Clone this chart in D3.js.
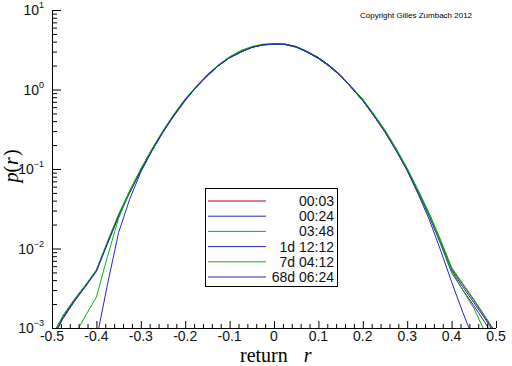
<!DOCTYPE html>
<html>
<head>
<meta charset="utf-8">
<script src="https://d3js.org/d3.v7.min.js"></script>
<style>
  body { margin: 0; background: #fff; }
  svg { display: block; }
</style>
</head>
<body>
<svg id="chart"></svg>
<script>
// return grid, step 0.025 from -0.5 to 0.5
const returns = [-0.5, -0.475, -0.45, -0.425, -0.4, -0.375, -0.35, -0.325, -0.3, -0.275,
    -0.25, -0.225, -0.2, -0.175, -0.15, -0.125, -0.1, -0.075, -0.05, -0.025,
    0, 0.025, 0.05, 0.075, 0.1, 0.125, 0.15, 0.175, 0.2, 0.225,
    0.25, 0.275, 0.3, 0.325, 0.35, 0.375, 0.4, 0.425, 0.45, 0.475, 0.5];

// log10 p(r)
const log00_03 = [-3.12, -2.85, -2.65, -2.47, -2.28, -1.92, -1.58, -1.28, -1.01, -0.76,
    -0.53, -0.32, -0.13, 0.03, 0.18, 0.30, 0.40, 0.47, 0.53, 0.56,
    0.572, 0.57, 0.54, 0.47, 0.40, 0.30, 0.18, 0.03, -0.13, -0.32,
    -0.52, -0.75, -1.00, -1.28, -1.57, -1.90, -2.25, -2.45, -2.65, -2.86, -3.08];
const log00_24 = [-3.15, -2.87, -2.66, -2.48, -2.27, -1.93, -1.59, -1.29, -1.02, -0.77,
    -0.53, -0.33, -0.14, 0.03, 0.17, 0.30, 0.40, 0.48, 0.53, 0.565,
    0.575, 0.57, 0.54, 0.48, 0.40, 0.30, 0.17, 0.02, -0.14, -0.33,
    -0.53, -0.76, -1.01, -1.29, -1.58, -1.92, -2.27, -2.48, -2.68, -2.88, -3.10];
const log03_48 = [-3.10, -2.84, -2.64, -2.46, -2.27, -1.91, -1.57, -1.27, -1.00, -0.75,
    -0.52, -0.31, -0.12, 0.04, 0.18, 0.31, 0.41, 0.48, 0.535, 0.56,
    0.57, 0.565, 0.54, 0.47, 0.39, 0.29, 0.17, 0.03, -0.12, -0.31,
    -0.51, -0.74, -0.99, -1.27, -1.56, -1.89, -2.24, -2.44, -2.64, -2.85, -3.06];
const log1d_12_12 = [-3.14, -2.88, -2.67, -2.48, -2.29, -1.94, -1.60, -1.30, -1.02, -0.77,
    -0.54, -0.32, -0.13, 0.03, 0.18, 0.30, 0.40, 0.47, 0.53, 0.56,
    0.57, 0.565, 0.53, 0.47, 0.40, 0.30, 0.18, 0.02, -0.14, -0.33,
    -0.53, -0.76, -1.02, -1.30, -1.60, -1.94, -2.30, -2.52, -2.72, -2.93, -3.15];
const log7d_04_12 = [-3.6, -3.4, -3.10, -2.85, -2.61, -2.10, -1.62, -1.28, -1.00, -0.75,
    -0.52, -0.31, -0.12, 0.04, 0.19, 0.31, 0.41, 0.49, 0.54, 0.57,
    0.575, 0.57, 0.535, 0.47, 0.39, 0.29, 0.17, 0.02, -0.14, -0.33,
    -0.53, -0.76, -1.00, -1.28, -1.58, -1.92, -2.28, -2.52, -2.75, -3.05, -3.4];
const log68d_06_24 = [-4.5, -4.2, -3.9, -3.6, -3.15, -2.45, -1.80, -1.38, -1.04, -0.77,
    -0.53, -0.32, -0.13, 0.03, 0.18, 0.30, 0.40, 0.47, 0.53, 0.565,
    0.572, 0.57, 0.535, 0.47, 0.39, 0.29, 0.17, 0.02, -0.14, -0.33,
    -0.54, -0.77, -1.02, -1.32, -1.64, -2.02, -2.42, -2.80, -3.15, -3.5, -3.9];

const seriesNames = ["00:03", "00:24", "03:48", "1d 12:12", "7d 04:12", "68d 06:24"];
const seriesColors = ["#b0001a", "#2828b4", "#10b010", "#2828b4", "#10b010", "#2828b4"];
const seriesValues = [log00_03, log00_24, log03_48, log1d_12_12, log7d_04_12, log68d_06_24];

const xTicks = [-0.5, -0.4, -0.3, -0.2, -0.1, 0, 0.1, 0.2, 0.3, 0.4, 0.5];
const xTickLabels = ["-0.5", "-0.4", "-0.3", "-0.2", "-0.1", "0", "0.1", "0.2", "0.3", "0.4", "0.5"];
const yExponents = [1, 0, -1, -2, -3];

const width = 512, height = 366;
const svg = d3.select("#chart")
    .attr("width", width)
    .attr("height", height);

const x = d3.scaleLinear()
    .domain([-0.5, 0.5])
    .range([52, 496]);

const y = d3.scaleLog()
    .domain([1e-3, 1e1])
    .range([328, 10]);

// clip the curves to the plot area
svg.append("defs")
    .append("clipPath")
    .attr("id", "plot-clip")
    .append("rect")
    .attr("x", 52)
    .attr("y", 10)
    .attr("width", 444)
    .attr("height", 318);

const line = d3.line()
    .x(d => x(d[0]))
    .y(d => y(Math.pow(10, d[1])));

const curves = svg.append("g").attr("clip-path", "url(#plot-clip)");
seriesValues.forEach((vals, i) => {
    curves.append("path")
        .datum(returns.map((r, j) => [r, vals[j]]))
        .attr("d", line)
        .attr("fill", "none")
        .attr("stroke", seriesColors[i])
        .attr("stroke-width", 1);
});

// y axis (log), ticks pointing inward
const yMinor = [];
for (let e = -3; e < 1; e++) {
    for (let m = 2; m <= 9; m++) yMinor.push(m * Math.pow(10, e));
}
const yAxis = d3.axisRight(y)
    .tickValues(yExponents.map(e => Math.pow(10, e)))
    .tickSize(9)
    .tickFormat("");
svg.append("g")
    .attr("transform", "translate(52,0)")
    .call(yAxis)
    .call(g => g.select(".domain").attr("d", "M0.5,10V328"))
    .call(g => g.selectAll(".tick line").attr("stroke", "#000"));
svg.append("g")
    .attr("transform", "translate(52,0)")
    .call(d3.axisRight(y).tickValues(yMinor).tickSize(5).tickFormat(""))
    .call(g => g.select(".domain").remove());

const yLabels = svg.append("g")
    .style("font-family", "'Liberation Sans', Arial, sans-serif")
    .style("fill", "#111");
yExponents.forEach(e => {
    const t = yLabels.append("text")
        .attr("x", 44)
        .attr("y", y(Math.pow(10, e)) + 5)
        .attr("text-anchor", "end")
        .style("font-size", "14px");
    t.append("tspan").text("10");
    t.append("tspan")
        .attr("dy", -7)
        .style("font-size", "9px")
        .text(e < 0 ? "\u2212" + (-e) : e);
});

// x axis, ticks pointing up
const xMinor = d3.range(-50, 51, 2).filter(v => v % 10 !== 0).map(v => v / 100);
svg.append("g")
    .attr("transform", "translate(0,328)")
    .call(d3.axisTop(x).tickValues(xTicks).tickSize(7).tickFormat(""))
    .call(g => g.select(".domain").attr("d", "M52,0.5H496"));
svg.append("g")
    .attr("transform", "translate(0,328)")
    .call(d3.axisTop(x).tickValues(xMinor).tickSize(4).tickFormat(""))
    .call(g => g.select(".domain").remove());

svg.append("g")
    .selectAll("text")
    .data(xTicks)
    .enter()
    .append("text")
    .attr("x", d => x(d))
    .attr("y", 341)
    .attr("text-anchor", "middle")
    .style("font-family", "'Liberation Sans', Arial, sans-serif")
    .style("font-size", "14px")
    .style("fill", "#111")
    .text((d, i) => xTickLabels[i]);

// axis titles
const xTitle = svg.append("text")
    .attr("x", 240)
    .attr("y", 362)
    .style("font-family", "'Liberation Serif', 'Times New Roman', serif")
    .style("font-size", "20px");
xTitle.append("tspan").text("return");
xTitle.append("tspan").attr("dx", 16).style("font-style", "italic").text("r");

const yTitle = svg.append("text")
    .attr("transform", "translate(18,166) rotate(-90)")
    .attr("text-anchor", "middle")
    .style("font-family", "'Liberation Serif', 'Times New Roman', serif")
    .style("font-size", "20px")
    .style("font-style", "italic");
yTitle.append("tspan").text("p");
yTitle.append("tspan").style("font-style", "normal").text("(");
yTitle.append("tspan").attr("dx", 1).text("r");
yTitle.append("tspan").attr("dx", 1).style("font-style", "normal").text(")");

// copyright
svg.append("text")
    .attr("x", 360)
    .attr("y", 18)
    .style("font-family", "'Liberation Sans', Arial, sans-serif")
    .style("font-size", "8px")
    .text("Copyright Gilles Zumbach 2012");

// legend
const legend = svg.append("g");
legend.append("rect")
    .attr("x", 205.5)
    .attr("y", 188.5)
    .attr("width", 132)
    .attr("height", 98)
    .attr("fill", "#fff")
    .attr("stroke", "#000");

seriesNames.forEach((name, i) => {
    const ly = 201 + i * 15.2;
    legend.append("line")
        .attr("x1", 208)
        .attr("x2", 266)
        .attr("y1", ly)
        .attr("y2", ly)
        .attr("stroke", seriesColors[i]);
    legend.append("text")
        .attr("x", 334)
        .attr("y", ly + 5)
        .attr("text-anchor", "end")
        .style("font-family", "'Liberation Sans', Arial, sans-serif")
        .style("font-size", "14px")
        .style("fill", "#111")
        .text(name);
});
</script>
</body>
</html>
